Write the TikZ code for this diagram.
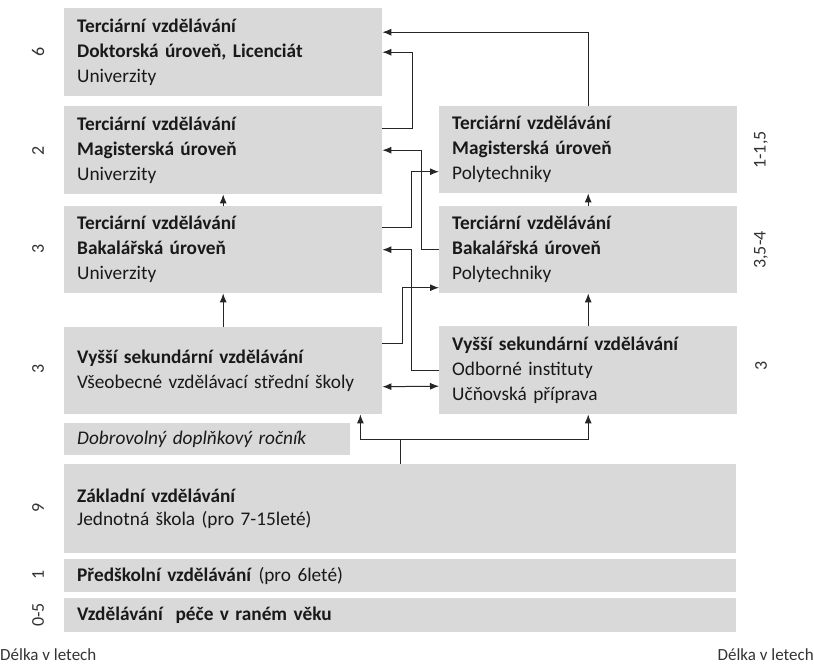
\documentclass[tikz,border=0pt]{standalone}
\usepackage{fontspec}
\setmainfont{Carlito}
\usepackage{xcolor}
\usetikzlibrary{arrows.meta}
\definecolor{boxgray}{HTML}{D9D9D9}
\definecolor{linegray}{HTML}{262626}

\begin{document}
\begin{tikzpicture}[x=1pt,y=-1pt,
        box/.style={fill=boxgray,anchor=north west,inner xsep=13pt,inner ysep=0pt,
          align=left,text=black!90,font=\fontsize{19.3}{25}\selectfont},
        years/.style={rotate=90,text=black!80,font=\fontsize{18}{20}\selectfont},
        arr/.style={draw=linegray,line width=1pt,-{Latex[length=9pt,width=7pt]}},
        arrboth/.style={draw=linegray,line width=1pt,{Latex[length=9pt,width=7pt]}-{Latex[length=9pt,width=7pt]}},
        plain line/.style={draw=linegray,line width=1pt}
      ]
      \useasboundingbox (0,0) rectangle (814,664);

      % university branch
      \node[box,text width=292pt,minimum height=88pt] (dokt) at (64,8)
        {\textbf{Terciární vzdělávání}\\\textbf{Doktorská úroveň, Licenciát}\\Univerzity};
      \node[box,text width=292pt,minimum height=88pt] (magU) at (64,106)
        {\textbf{Terciární vzdělávání}\\\textbf{Magisterská úroveň}\\Univerzity};
      \node[box,text width=292pt,minimum height=87pt] (bakU) at (64,206)
        {\textbf{Terciární vzdělávání}\\\textbf{Bakalářská úroveň}\\Univerzity};
      \node[box,text width=292pt,minimum height=87pt] (vsG) at (64,327)
        {\textbf{Vyšší sekundární vzdělávání}\\Všeobecné vzdělávací střední školy};

      % polytechnic branch
      \node[box,text width=272pt,minimum height=87pt] (magP) at (439,106)
        {\textbf{Terciární vzdělávání}\\\textbf{Magisterská úroveň}\\Polytechniky};
      \node[box,text width=272pt,minimum height=87pt] (bakP) at (439,206)
        {\textbf{Terciární vzdělávání}\\\textbf{Bakalářská úroveň}\\Polytechniky};
      \node[box,text width=272pt,minimum height=88pt] (vsO) at (439,326)
        {\textbf{Vyšší sekundární vzdělávání}\\Odborné instituty\\Učňovská příprava};

      % common levels
      \node[box,text width=260pt,minimum height=32pt] (dopl) at (64,423)
        {\textit{Dobrovolný doplňkový ročník}};
      \node[box,text width=646pt,minimum height=89pt,font=\fontsize{19.3}{23}\selectfont] (zakl) at (64,464)
        {\textbf{Základní vzdělávání}\\Jednotná škola (pro 7-15leté)};
      \node[box,text width=646pt,minimum height=33pt] (presk) at (64,559)
        {\textbf{Předškolní vzdělávání} (pro 6leté)};
      \node[box,text width=646pt,minimum height=34pt] (pece) at (64,598)
        {\textbf{Vzdělávání~ péče v raném věku}};

      % years
      \node[years] (l6) at (38,52) {6};
      \node[years] (l2) at (38,151) {2};
      \node[years] (l3a) at (38,249) {3};
      \node[years] (l3b) at (38,369) {3};
      \node[years] (l9) at (38,508) {9};
      \node[years] (l1) at (38,575) {1};
      \node[years] (l05) at (38,615) {0-5};
      \node[years] (r11) at (761,150) {1-1,5};
      \node[years] (r35) at (761,250) {3,5-4};
      \node[years] (r3) at (761,366) {3};
      \node[anchor=west,inner sep=0pt,text=black!80,font=\fontsize{17}{19}\selectfont] (dl) at (0,655) {Délka v letech};
      \node[anchor=east,inner sep=0pt,text=black!80,font=\fontsize{17}{19}\selectfont] (dr) at (814,655) {Délka v letech};

      % connectors
      \draw[arr] (bakU.north) -- (magU.south);
      \draw[arr] (vsG.north) -- (bakU.south);
      \draw[arr] (bakP.north) -- (magP.south);
      \draw[arr] (vsO.north) -- (bakP.south);
      \draw[arr] (magP.north) |- ([yshift=20pt]dokt.east);
      \draw[arr] ([yshift=22pt]magU.east) -- ++(30,0) |- (dokt.east);
      \draw[arr] (bakP.west) -- ++(-18,0) |- (magU.east);
      \draw[arr] ([yshift=22pt]bakU.east) -- ++(29,0) |- ([yshift=-22pt]magP.west);
      \draw[arr] (vsO.west) -- ++(-28,0) |- (bakU.east);
      \draw[arr] ([yshift=27pt]vsG.east) -- ++(20,0) |- ([yshift=-38pt]bakP.west);
      \draw[arrboth] ([yshift=-16pt]vsG.east) -- ([yshift=-16pt]vsO.west);

      \coordinate (split) at ([yshift=25pt]zakl.north);
      \draw[plain line] (zakl.north) -- (split);
      \draw[arr] (split) -| (vsO.south);
      \draw[arr] (split) -| ([xshift=-22pt]vsG.south east);
    \end{tikzpicture}
\end{document}
